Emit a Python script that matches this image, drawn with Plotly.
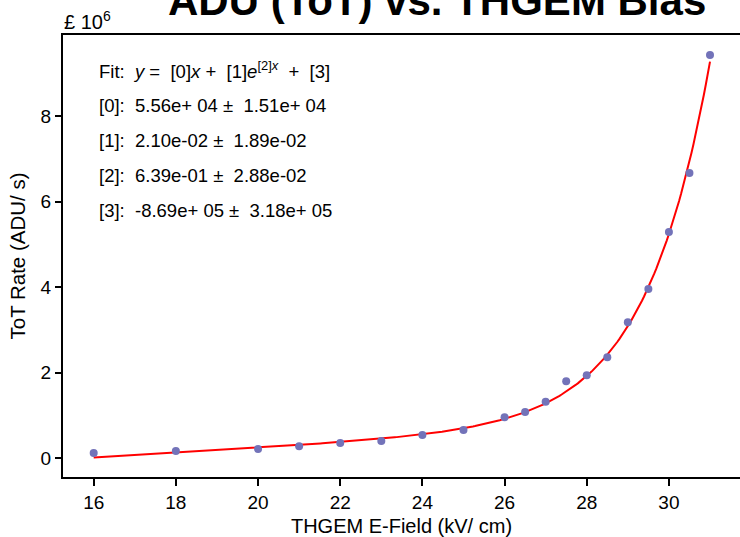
import numpy as np
import plotly.graph_objects as go

# Data (rate in units of 1e6 ADU/s)
efield = [16, 18, 20, 21, 22, 23, 24, 25, 26, 26.5, 27, 27.5, 28, 28.5, 29, 29.5, 30, 30.5, 31]
rate = [0.124, 0.171, 0.218, 0.28, 0.358, 0.405, 0.545, 0.662, 0.96, 1.08, 1.32, 1.80,
        1.94, 2.36, 3.18, 3.96, 5.29, 6.67, 9.43]

# Fit parameters shown in the chart: y = p0*x + p1*exp(p2*x) + p3
fit_params = [5.56e4, 2.10e-2, 6.39e-1, -8.69e5]
fit_errors = [1.51e4, 1.89e-2, 2.88e-2, 3.18e5]
fit_labels = ["[0]:  5.56e+ 04 \u00b1  1.51e+ 04",
              "[1]:  2.10e-02 \u00b1  1.89e-02",
              "[2]:  6.39e-01 \u00b1  2.88e-02",
              "[3]:  -8.69e+ 05 \u00b1  3.18e+ 05"]

xticks = [16, 18, 20, 22, 24, 26, 28, 30]
yticks = [0, 2, 4, 6, 8]

xf = np.linspace(min(efield), max(efield), 300)
yf = (fit_params[0] * xf + fit_params[1] * np.exp(fit_params[2] * xf) + fit_params[3]) / 1e6

W, H = 740, 537
L, R, T, B = 63.3, 0, 35, 60.3
ph = H - T - B
pw = W - L - R

FONT = "Liberation Sans, Arial, sans-serif"

fig = go.Figure()
fig.add_trace(go.Scatter(x=xf, y=yf, mode="lines", line=dict(color="#ff0000", width=2),
                         showlegend=False, hoverinfo="skip"))
fig.add_trace(go.Scatter(x=efield, y=rate, mode="markers",
                         marker=dict(color="#7373b9", size=8), showlegend=False))

def py(pix):
    return 1 + (T - pix) / ph

def px(pix):
    return (pix - L) / pw

ann = []
ann.append(dict(text="<b>ADU (ToT) vs. THGEM Bias</b>", x=px(437.5), y=py(1), xref="paper", yref="paper",
                xanchor="center", yanchor="middle", showarrow=False,
                font=dict(family=FONT, size=42, color="black")))
ann.append(dict(text="\u00a3 10<sup>6</sup>", x=px(62), y=py(21), xref="paper", yref="paper",
                xanchor="left", yanchor="middle", showarrow=False,
                font=dict(family=FONT, size=20, color="black")))
lines = ["Fit:  <i>y</i> =  [0]<i>x</i> +  [1]<i>e</i><sup>[2]<i>x</i></sup>  +  [3]"] + fit_labels
ys = [70, 105, 140, 175, 210]
for t, yy in zip(lines, ys):
    ann.append(dict(text=t, x=px(97), y=py(yy), xref="paper", yref="paper",
                    xanchor="left", yanchor="middle", showarrow=False,
                    font=dict(family=FONT, size=18.5, color="black")))

fig.update_layout(
    width=W, height=H,
    margin=dict(l=L, r=R, t=T, b=B, pad=0),
    paper_bgcolor="white", plot_bgcolor="white",
    font=dict(family=FONT, color="black"),
    annotations=ann,
    xaxis=dict(range=[15.253, 31.73], tickvals=xticks, ticks="outside", ticklen=7, tickwidth=1.5,
               tickcolor="black", showline=True, linecolor="black", linewidth=2, mirror=True,
               showgrid=False, zeroline=False, tickfont=dict(size=19),
               title=dict(text="THGEM E-Field (kV/ cm)", font=dict(size=20), standoff=7)),
    yaxis=dict(range=[-0.437, 9.895], tickvals=yticks, ticks="outside", ticklen=6, tickwidth=1.5,
               tickcolor="black", showline=True, linecolor="black", linewidth=2,
               showgrid=False, zeroline=False, tickfont=dict(size=19),
               title=dict(text="ToT Rate (ADU/ s)", font=dict(size=20.5), standoff=9)),
)

fig.write_html("out.html")
